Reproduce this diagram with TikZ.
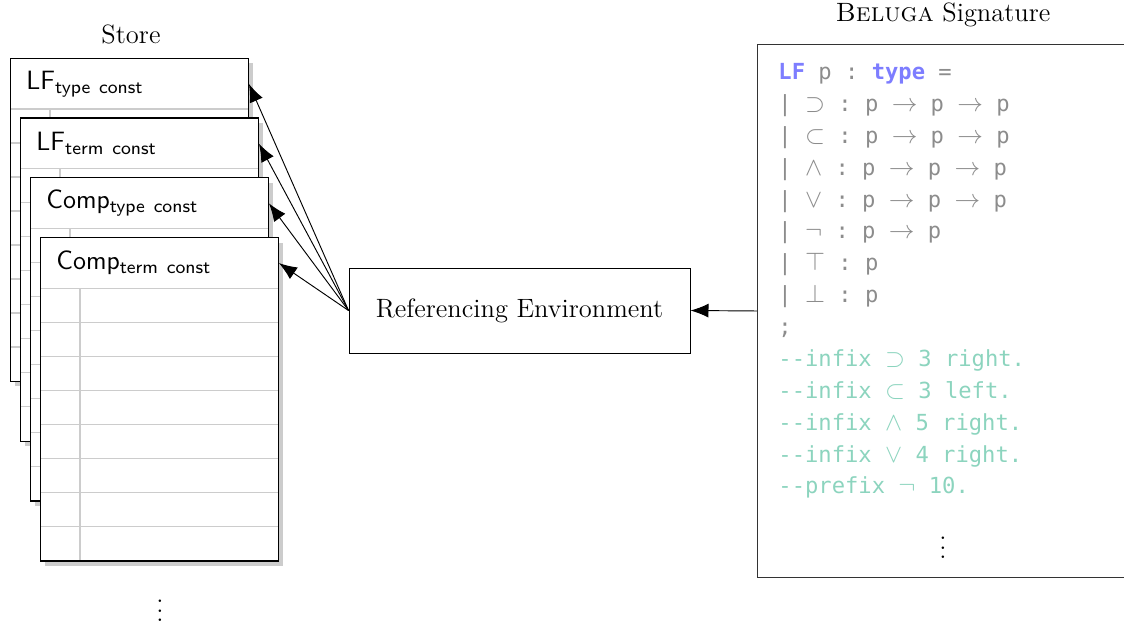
\documentclass[tikz,border=0pt]{standalone}
\usepackage{fontspec}
\setmonofont{DejaVu Sans Mono}[Scale=0.9]
\usetikzlibrary{arrows.meta,shadows}

\definecolor{kwblue}{RGB}{125,125,255}
\definecolor{codegray}{RGB}{140,140,140}
\definecolor{cmtgreen}{RGB}{140,212,190}

\begin{document}
\begin{tikzpicture}[x=0.15mm,y=-0.15mm,
  every node/.style={font=\fontsize{11.3}{13.6}\selectfont},
  card/.style={draw,fill=white,inner sep=0pt,minimum width=35.7mm,minimum height=48.45mm,anchor=north west,
    drop shadow={shadow xshift=0.75mm,shadow yshift=-0.75mm,fill=black!20,opacity=1}},
  cardhead/.style={anchor=north west,inner xsep=2.4mm,inner ysep=0pt,text width=30.9mm,minimum height=7.65mm,
    align=left,font=\sffamily\fontsize{11.3}{13.6}\selectfont},
  rowline/.style={black!20,line width=0.5pt},
  arr/.style={-{Latex[length=2.7mm,width=2.1mm]}},
  envbox/.style={draw,minimum width=51.15mm,minimum height=12.75mm},
  sigbox/.style={draw,black!80,anchor=north west,minimum width=55.8mm,minimum height=79.95mm}]
  \useasboundingbox (0,0) rectangle (1124,625);

  % Store
  \node (store) at (131,34) {Store};
  \foreach \k/\lbl in {0/LF\textsubscript{type const},1/LF\textsubscript{term const},
                       2/Comp\textsubscript{type const},3/Comp\textsubscript{term const}}{
    \pgfmathsetmacro{\cx}{10+10*\k}
    \pgfmathsetmacro{\cy}{58+59.7*\k}
    \node[card] (c\k) at (\cx,\cy) {};
    \node[cardhead] (h\k) at (\cx,\cy) {\lbl};
    \foreach \r in {0,...,7}
      \draw[rowline] (\cx,\cy+51+34*\r) -- ++(238,0);
    \draw[rowline] (\cx+40,\cy+51) -- (\cx+40,\cy+323);
    \draw (c\k.north west) rectangle (c\k.south east);
  }
  \node (storedots) at (160,604) {$\vdots$};

  % Referencing environment
  \node[envbox] (env) at (519.5,310.5) {Referencing Environment};
  \foreach \k in {0,...,3}
    \draw[arr] (env.west) -- (h\k.east);

  % Signature
  \node[sigbox] (sig) at (757,44) {};
  \node (sigtitle) at (943,15) {\textsc{Beluga} Signature};
  \node[anchor=north west,inner sep=0pt,align=left,text=codegray,
        font=\ttfamily\fontsize{10.5}{13.6}\selectfont] (code) at (778,63) {%
    \textcolor{kwblue}{\textbf{LF}} p : \textcolor{kwblue}{\textbf{type}} =\\
    | $\supset$ : p $\to$ p $\to$ p\\
    | $\subset$ : p $\to$ p $\to$ p\\
    | $\wedge$ : p $\to$ p $\to$ p\\
    | $\vee$ : p $\to$ p $\to$ p\\
    | $\neg$ : p $\to$ p\\
    | $\top$ : p\\
    | $\bot$ : p\\
    ;\\
    \textcolor{cmtgreen}{-{}-infix $\supset$ 3 right.}\\
    \textcolor{cmtgreen}{-{}-infix $\subset$ 3 left.}\\
    \textcolor{cmtgreen}{-{}-infix $\wedge$ 5 right.}\\
    \textcolor{cmtgreen}{-{}-infix $\vee$ 4 right.}\\
    \textcolor{cmtgreen}{-{}-prefix $\neg$ 10.}};
  \node (sigdots) at (943,541) {$\vdots$};
  \draw[arr] (sig.west) -- (env.east);
\end{tikzpicture}
\end{document}
